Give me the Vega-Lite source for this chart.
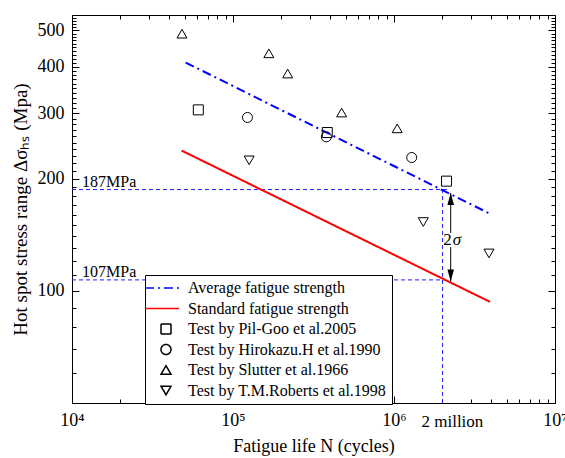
{
  "$schema": "https://vega.github.io/schema/vega-lite/v6.json",
  "width": 483,
  "height": 388,
  "autosize": {"type": "none"},
  "padding": {"left": 72, "top": 15, "right": 10, "bottom": 55},
  "background": "white",
  "config": {
    "font": "Liberation Serif",
    "view": {"stroke": null},
    "axis": {
      "grid": false,
      "domainColor": "black",
      "tickColor": "black",
      "labelColor": "black",
      "titleColor": "black",
      "labelFont": "Liberation Serif",
      "titleFont": "Liberation Serif",
      "labelFontSize": 18,
      "titleFontSize": 18,
      "titleFontWeight": "normal",
      "labelFlush": false,
      "labelOverlap": false,
      "tickWidth": 1,
      "domainWidth": 1
    }
  },
  "datasets": {
    "lines": [
      {"series": "Average fatigue strength", "x": 50800, "y": 410},
      {"series": "Average fatigue strength", "x": 3950000, "y": 161},
      {"series": "Standard fatigue strength", "x": 47900, "y": 238},
      {"series": "Standard fatigue strength", "x": 3950000, "y": 93.4}
    ],
    "points": [
      {"series": "Test by Pil-Goo et al.2005", "x": 60900, "y": 306},
      {"series": "Test by Pil-Goo et al.2005", "x": 385000, "y": 266},
      {"series": "Test by Pil-Goo et al.2005", "x": 2120000, "y": 197},
      {"series": "Test by Hirokazu.H et al.1990", "x": 123000, "y": 292},
      {"series": "Test by Hirokazu.H et al.1990", "x": 380000, "y": 259},
      {"series": "Test by Hirokazu.H et al.1990", "x": 1288000, "y": 228},
      {"series": "Test by Slutter et al.1966", "x": 48200, "y": 490},
      {"series": "Test by Slutter et al.1966", "x": 167000, "y": 434},
      {"series": "Test by Slutter et al.1966", "x": 218600, "y": 383},
      {"series": "Test by Slutter et al.1966", "x": 473000, "y": 301},
      {"series": "Test by Slutter et al.1966", "x": 1047000, "y": 273},
      {"series": "Test by T.M.Roberts et al.1998", "x": 126000, "y": 224},
      {"series": "Test by T.M.Roberts et al.1998", "x": 1520000, "y": 153},
      {"series": "Test by T.M.Roberts et al.1998", "x": 3890000, "y": 126}
    ],
    "refs": [
      {"x": 10000, "x2": 2150000, "y": 187, "y2": 187},
      {"x": 10000, "x2": 2050000, "y": 107, "y2": 107},
      {"x": 2000000, "x2": 2000000, "y": 50, "y2": 187}
    ],
    "arrows": [
      {"x": 2250000, "x2": 2250000, "y": 183, "y2": 143},
      {"x": 2250000, "x2": 2250000, "y": 131, "y2": 106}
    ],
    "headUp": [{"x": 2250000, "y": 183}],
    "headDown": [{"x": 2250000, "y": 106}],
    "mpa": [
      {"x": 10000, "y": 187, "label": "187MPa"},
      {"x": 10000, "y": 107, "label": "107MPa"}
    ],
    "million": [{"x": 2000000, "y": 50, "label": "2 million"}],
    "two": [{"x": 2250000, "y": 136.8, "label": "2"}],
    "sigma": [{"x": 2250000, "y": 136.8, "label": "σ"}]
  },
  "resolve": {"axis": {"x": "independent", "y": "independent"}},
  "layer": [
    {
      "data": {"name": "refs"},
      "mark": {"type": "rule", "color": "#2020ff", "strokeWidth": 1, "strokeDash": [4, 3]},
      "encoding": {
        "x": {"field": "x", "type": "quantitative", "scale": {"type": "log", "domain": [10000, 10000000], "nice": false},
          "axis": {"orient": "bottom", "values": [20000, 30000, 40000, 50000, 60000, 70000, 80000, 90000, 200000, 300000, 400000, 500000, 600000, 700000, 800000, 900000, 2000000, 3000000, 4000000, 5000000, 6000000, 7000000, 8000000, 9000000], "labels": false, "tickSize": -4, "domain": false, "title": null}},
        "x2": {"field": "x2"},
        "y": {"field": "y", "type": "quantitative", "scale": {"type": "log", "domain": [50, 550], "nice": false},
          "axis": {"orient": "left", "values": [60, 70, 80, 90, 110, 120, 130, 140, 150, 160, 170, 180, 190, 210, 220, 230, 240, 250, 260, 270, 280, 290, 310, 320, 330, 340, 350, 360, 370, 380, 390, 410, 420, 430, 440, 450, 460, 470, 480, 490, 510, 520, 530, 540], "labels": false, "tickSize": -4, "domain": false, "title": null}},
        "y2": {"field": "y2"}
      }
    },
    {
      "data": {"name": "lines"},
      "mark": {"type": "line", "strokeWidth": 2},
      "encoding": {
        "x": {"field": "x", "type": "quantitative", "scale": {"type": "log", "domain": [10000, 10000000], "nice": false},
          "axis": {"orient": "bottom", "values": [10000, 100000, 1000000, 10000000], "tickSize": -7, "labelPadding": 15,
            "labelFont": "Liberation Serif", "labelFontSize": 18,
            "labelExpr": "datum.value == 10000 ? '10⁴' : datum.value == 100000 ? '10⁵' : datum.value == 1000000 ? '10⁶' : '10⁷'",
            "title": "Fatigue life N (cycles)", "titleFont": "Liberation Serif", "titleFontSize": 18, "titlePadding": 8}},
        "y": {"field": "y", "type": "quantitative", "scale": {"type": "log", "domain": [50, 550], "nice": false},
          "axis": {"orient": "left", "values": [100, 200, 300, 400, 500], "tickSize": -7, "labelPadding": 15, "format": "d",
            "labelFont": "Liberation Serif", "labelFontSize": 18,
            "title": "Hot spot stress range Δσₕₛ (Mpa)", "titleFont": "Liberation Serif", "titleFontSize": 19, "titlePadding": 7}},
        "color": {"field": "series", "type": "nominal",
          "scale": {"domain": ["Average fatigue strength", "Standard fatigue strength", "Test by Pil-Goo et al.2005", "Test by Hirokazu.H et al.1990", "Test by Slutter et al.1966", "Test by T.M.Roberts et al.1998"],
            "range": ["#0000ff", "#ff0000", "black", "black", "black", "black"]},
          "legend": {"title": null, "orient": "none", "legendX": 73, "legendY": 260, "strokeColor": "black", "fillColor": "white", "padding": 5, "symbolOffset": 8, "labelOffset": 14, "labelFont": "Liberation Serif", "labelFontSize": 16, "labelColor": "black", "rowPadding": 4.5, "symbolSize": 100, "symbolStrokeWidth": 1.5, "labelLimit": 0}},
        "strokeDash": {"field": "series", "type": "nominal",
          "scale": {"domain": ["Average fatigue strength", "Standard fatigue strength", "Test by Pil-Goo et al.2005", "Test by Hirokazu.H et al.1990", "Test by Slutter et al.1966", "Test by T.M.Roberts et al.1998"],
            "range": [[9, 4, 2, 4], [1, 0], [1, 0], [1, 0], [1, 0], [1, 0]]},
          "legend": {"title": null, "orient": "none", "legendX": 73, "legendY": 260, "strokeColor": "black", "fillColor": "white", "padding": 5, "symbolOffset": 8, "labelOffset": 14, "labelFont": "Liberation Serif", "labelFontSize": 16, "labelColor": "black", "rowPadding": 4.5, "symbolSize": 100, "symbolStrokeWidth": 1.5, "labelLimit": 0}}
      }
    },
    {
      "data": {"name": "points"},
      "mark": {"type": "point", "filled": false, "size": 100, "strokeWidth": 1, "opacity": 1},
      "encoding": {
        "x": {"field": "x", "type": "quantitative", "scale": {"type": "log", "domain": [10000, 10000000], "nice": false},
          "axis": {"orient": "top", "values": [10000, 100000, 1000000, 10000000], "tickSize": -7, "labels": false, "title": null}},
        "y": {"field": "y", "type": "quantitative", "scale": {"type": "log", "domain": [50, 550], "nice": false},
          "axis": {"orient": "right", "values": [100, 200, 300, 400, 500], "tickSize": -7, "labels": false, "title": null}},
        "color": {"field": "series", "type": "nominal",
          "scale": {"domain": ["Average fatigue strength", "Standard fatigue strength", "Test by Pil-Goo et al.2005", "Test by Hirokazu.H et al.1990", "Test by Slutter et al.1966", "Test by T.M.Roberts et al.1998"],
            "range": ["#0000ff", "#ff0000", "black", "black", "black", "black"]},
          "legend": {"title": null, "orient": "none", "legendX": 73, "legendY": 260, "strokeColor": "black", "fillColor": "white", "padding": 5, "symbolOffset": 8, "labelOffset": 14, "labelFont": "Liberation Serif", "labelFontSize": 16, "labelColor": "black", "rowPadding": 4.5, "symbolSize": 100, "symbolStrokeWidth": 1.5, "labelLimit": 0}},
        "shape": {"field": "series", "type": "nominal",
          "scale": {"domain": ["Average fatigue strength", "Standard fatigue strength", "Test by Pil-Goo et al.2005", "Test by Hirokazu.H et al.1990", "Test by Slutter et al.1966", "Test by T.M.Roberts et al.1998"],
            "range": ["M-4.2,0L2.6,0", "M-4.2,0L2.6,0", "square", "circle", "triangle-up", "triangle-down"]},
          "legend": {"title": null, "orient": "none", "legendX": 73, "legendY": 260, "strokeColor": "black", "fillColor": "white", "padding": 5, "symbolOffset": 8, "labelOffset": 14, "labelFont": "Liberation Serif", "labelFontSize": 16, "labelColor": "black", "rowPadding": 4.5, "symbolSize": 100, "symbolStrokeWidth": 1.5, "labelLimit": 0}}
      }
    },
    {
      "data": {"name": "arrows"},
      "mark": {"type": "rule", "color": "black", "strokeWidth": 1},
      "encoding": {
        "x": {"field": "x", "type": "quantitative", "scale": {"type": "log", "domain": [10000, 10000000], "nice": false},
          "axis": {"orient": "top", "values": [20000, 30000, 40000, 50000, 60000, 70000, 80000, 90000, 200000, 300000, 400000, 500000, 600000, 700000, 800000, 900000, 2000000, 3000000, 4000000, 5000000, 6000000, 7000000, 8000000, 9000000], "labels": false, "tickSize": -4, "domain": false, "title": null}},
        "x2": {"field": "x2"},
        "y": {"field": "y", "type": "quantitative", "scale": {"type": "log", "domain": [50, 550], "nice": false},
          "axis": {"orient": "right", "values": [60, 70, 80, 90, 110, 120, 130, 140, 150, 160, 170, 180, 190, 210, 220, 230, 240, 250, 260, 270, 280, 290, 310, 320, 330, 340, 350, 360, 370, 380, 390, 410, 420, 430, 440, 450, 460, 470, 480, 490, 510, 520, 530, 540], "labels": false, "tickSize": -4, "domain": false, "title": null}},
        "y2": {"field": "y2"}
      }
    },
    {
      "data": {"name": "headUp"},
      "mark": {"type": "point", "filled": true, "color": "black", "opacity": 1, "size": 36, "shape": "M0,0L-1.1,4L1.1,4Z"},
      "encoding": {
        "x": {"field": "x", "type": "quantitative", "axis": null},
        "y": {"field": "y", "type": "quantitative", "axis": null}
      }
    },
    {
      "data": {"name": "headDown"},
      "mark": {"type": "point", "filled": true, "color": "black", "opacity": 1, "size": 36, "shape": "M0,0L-1.1,-4L1.1,-4Z"},
      "encoding": {
        "x": {"field": "x", "type": "quantitative", "axis": null},
        "y": {"field": "y", "type": "quantitative", "axis": null}
      }
    },
    {
      "data": {"name": "mpa"},
      "mark": {"type": "text", "align": "left", "baseline": "alphabetic", "dx": 10, "dy": -3, "fontSize": 16, "color": "black", "font": "Liberation Serif"},
      "encoding": {
        "x": {"field": "x", "type": "quantitative", "axis": null},
        "y": {"field": "y", "type": "quantitative", "axis": null},
        "text": {"field": "label"}
      }
    },
    {
      "data": {"name": "million"},
      "mark": {"type": "text", "align": "left", "baseline": "alphabetic", "dx": -21, "dy": 24, "fontSize": 17, "color": "black", "font": "Liberation Serif"},
      "encoding": {
        "x": {"field": "x", "type": "quantitative", "axis": null},
        "y": {"field": "y", "type": "quantitative", "axis": null},
        "text": {"field": "label"}
      }
    },
    {
      "data": {"name": "two"},
      "mark": {"type": "text", "align": "right", "baseline": "middle", "dx": 1, "fontSize": 17, "color": "black", "font": "Liberation Serif"},
      "encoding": {
        "x": {"field": "x", "type": "quantitative", "axis": null},
        "y": {"field": "y", "type": "quantitative", "axis": null},
        "text": {"field": "label"}
      }
    },
    {
      "data": {"name": "sigma"},
      "mark": {"type": "text", "align": "left", "baseline": "middle", "dx": 2, "fontSize": 17, "fontStyle": "italic", "color": "black", "font": "Liberation Serif"},
      "encoding": {
        "x": {"field": "x", "type": "quantitative", "axis": null},
        "y": {"field": "y", "type": "quantitative", "axis": null},
        "text": {"field": "label"}
      }
    }
  ]
}
